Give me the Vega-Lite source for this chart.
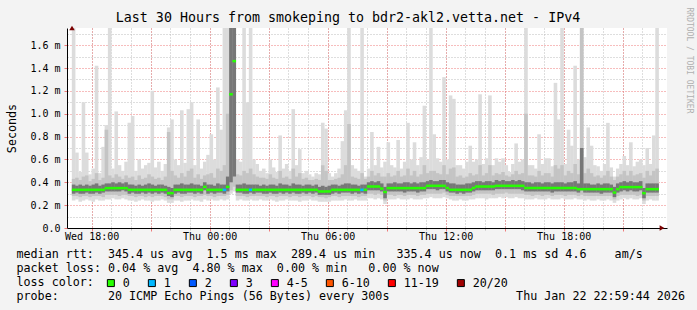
{
"$schema": "https://vega.github.io/schema/vega-lite/v6.json",
"width": 600, "height": 200,
"autosize": {"type": "none"},
"padding": {"left": 67, "top": 28, "right": 30, "bottom": 82},
"background": "#f3f3f3",
"title": {"text": "Last 30 Hours from smokeping to bdr2-akl2.vetta.net - IPv4", "font": "DejaVu Sans Mono", "fontSize": 13.3, "fontWeight": "normal", "color": "black", "anchor": "middle", "frame": "group", "dx": -19, "offset": 5, "baseline": "alphabetic", "dy": 33},
"config": {"view": {"fill": "white", "stroke": null}},
"data": {"values": [
{"t":"2026-01-21T17:05","min":0.24,"lo":0.28,"q1":0.30,"med":0.334,"q3":0.38,"hi":0.43,"max":1.8,"loss":"0"},
{"t":"2026-01-21T17:15","min":0.25,"lo":0.28,"q1":0.31,"med":0.334,"q3":0.37,"hi":0.44,"max":0.66,"loss":"0"},
{"t":"2026-01-21T17:25","min":0.23,"lo":0.27,"q1":0.30,"med":0.334,"q3":0.38,"hi":0.42,"max":0.49,"loss":"0"},
{"t":"2026-01-21T17:35","min":0.24,"lo":0.28,"q1":0.30,"med":0.334,"q3":0.37,"hi":0.45,"max":1.10,"loss":"0"},
{"t":"2026-01-21T17:45","min":0.25,"lo":0.28,"q1":0.31,"med":0.334,"q3":0.38,"hi":0.46,"max":0.66,"loss":"0"},
{"t":"2026-01-21T17:55","min":0.24,"lo":0.27,"q1":0.30,"med":0.334,"q3":0.37,"hi":0.41,"max":0.47,"loss":"0"},
{"t":"2026-01-21T18:05","min":0.23,"lo":0.28,"q1":0.30,"med":0.334,"q3":0.38,"hi":0.43,"max":0.52,"loss":"0"},
{"t":"2026-01-21T18:15","min":0.25,"lo":0.28,"q1":0.31,"med":0.334,"q3":0.39,"hi":0.48,"max":1.42,"loss":"0"},
{"t":"2026-01-21T18:25","min":0.24,"lo":0.28,"q1":0.30,"med":0.334,"q3":0.37,"hi":0.42,"max":0.48,"loss":"0"},
{"t":"2026-01-21T18:35","min":0.24,"lo":0.27,"q1":0.31,"med":0.334,"q3":0.38,"hi":0.44,"max":0.71,"loss":"0"},
{"t":"2026-01-21T18:45","min":0.25,"lo":0.29,"q1":0.32,"med":0.349,"q3":0.39,"hi":0.86,"max":0.90,"loss":"0"},
{"t":"2026-01-21T18:55","min":0.25,"lo":0.29,"q1":0.32,"med":0.349,"q3":0.39,"hi":0.46,"max":1.8,"loss":"0"},
{"t":"2026-01-21T19:05","min":0.26,"lo":0.29,"q1":0.32,"med":0.349,"q3":0.40,"hi":0.44,"max":0.52,"loss":"0"},
{"t":"2026-01-21T19:15","min":0.25,"lo":0.29,"q1":0.32,"med":0.349,"q3":0.39,"hi":0.47,"max":1.02,"loss":"0"},
{"t":"2026-01-21T19:25","min":0.25,"lo":0.28,"q1":0.32,"med":0.349,"q3":0.40,"hi":0.45,"max":0.55,"loss":"0"},
{"t":"2026-01-21T19:35","min":0.26,"lo":0.29,"q1":0.33,"med":0.349,"q3":0.39,"hi":0.43,"max":0.50,"loss":"0"},
{"t":"2026-01-21T19:45","min":0.25,"lo":0.29,"q1":0.32,"med":0.349,"q3":0.40,"hi":0.46,"max":0.58,"loss":"0"},
{"t":"2026-01-21T19:55","min":0.24,"lo":0.28,"q1":0.30,"med":0.334,"q3":0.38,"hi":0.44,"max":0.92,"loss":"0"},
{"t":"2026-01-21T20:05","min":0.24,"lo":0.28,"q1":0.31,"med":0.334,"q3":0.38,"hi":0.45,"max":0.98,"loss":"0"},
{"t":"2026-01-21T20:15","min":0.23,"lo":0.27,"q1":0.30,"med":0.334,"q3":0.37,"hi":0.42,"max":0.50,"loss":"0"},
{"t":"2026-01-21T20:25","min":0.24,"lo":0.28,"q1":0.30,"med":0.334,"q3":0.38,"hi":0.46,"max":0.60,"loss":"0"},
{"t":"2026-01-21T20:35","min":0.25,"lo":0.28,"q1":0.31,"med":0.334,"q3":0.37,"hi":0.43,"max":0.52,"loss":"0"},
{"t":"2026-01-21T20:45","min":0.24,"lo":0.27,"q1":0.30,"med":0.334,"q3":0.38,"hi":0.44,"max":0.55,"loss":"0"},
{"t":"2026-01-21T20:55","min":0.24,"lo":0.28,"q1":0.31,"med":0.334,"q3":0.39,"hi":0.47,"max":0.57,"loss":"0"},
{"t":"2026-01-21T21:05","min":0.23,"lo":0.27,"q1":0.30,"med":0.334,"q3":0.38,"hi":0.45,"max":1.20,"loss":"0"},
{"t":"2026-01-21T21:15","min":0.24,"lo":0.28,"q1":0.31,"med":0.334,"q3":0.37,"hi":0.43,"max":0.53,"loss":"0"},
{"t":"2026-01-21T21:25","min":0.24,"lo":0.28,"q1":0.30,"med":0.334,"q3":0.38,"hi":0.44,"max":0.58,"loss":"0"},
{"t":"2026-01-21T21:35","min":0.25,"lo":0.28,"q1":0.31,"med":0.334,"q3":0.38,"hi":0.42,"max":0.50,"loss":"0"},
{"t":"2026-01-21T21:45","min":0.24,"lo":0.27,"q1":0.30,"med":0.334,"q3":0.37,"hi":0.45,"max":0.56,"loss":"0"},
{"t":"2026-01-21T21:55","min":0.22,"lo":0.25,"q1":0.28,"med":0.305,"q3":0.36,"hi":0.84,"max":0.88,"loss":"0"},
{"t":"2026-01-21T22:05","min":0.22,"lo":0.25,"q1":0.27,"med":0.305,"q3":0.35,"hi":0.50,"max":0.95,"loss":"0"},
{"t":"2026-01-21T22:15","min":0.24,"lo":0.28,"q1":0.30,"med":0.334,"q3":0.38,"hi":0.46,"max":0.60,"loss":"0"},
{"t":"2026-01-21T22:25","min":0.24,"lo":0.28,"q1":0.31,"med":0.334,"q3":0.38,"hi":0.44,"max":0.55,"loss":"0"},
{"t":"2026-01-21T22:35","min":0.23,"lo":0.27,"q1":0.30,"med":0.334,"q3":0.39,"hi":0.48,"max":1.03,"loss":"0"},
{"t":"2026-01-21T22:45","min":0.24,"lo":0.28,"q1":0.30,"med":0.334,"q3":0.38,"hi":0.45,"max":0.57,"loss":"0"},
{"t":"2026-01-21T22:55","min":0.24,"lo":0.28,"q1":0.31,"med":0.334,"q3":0.38,"hi":0.50,"max":1.04,"loss":"0"},
{"t":"2026-01-21T23:05","min":0.25,"lo":0.28,"q1":0.31,"med":0.334,"q3":0.39,"hi":0.52,"max":1.10,"loss":"0"},
{"t":"2026-01-21T23:15","min":0.24,"lo":0.27,"q1":0.30,"med":0.334,"q3":0.38,"hi":0.44,"max":0.55,"loss":"0"},
{"t":"2026-01-21T23:25","min":0.24,"lo":0.28,"q1":0.31,"med":0.334,"q3":0.38,"hi":0.47,"max":0.95,"loss":"0"},
{"t":"2026-01-21T23:35","min":0.23,"lo":0.28,"q1":0.30,"med":0.334,"q3":0.37,"hi":0.43,"max":0.52,"loss":"0"},
{"t":"2026-01-21T23:45","min":0.25,"lo":0.29,"q1":0.33,"med":0.36,"q3":0.40,"hi":0.46,"max":0.58,"loss":"0"},
{"t":"2026-01-21T23:55","min":0.24,"lo":0.28,"q1":0.30,"med":0.334,"q3":0.38,"hi":0.47,"max":0.64,"loss":"0"},
{"t":"2026-01-22T00:05","min":0.25,"lo":0.28,"q1":0.31,"med":0.334,"q3":0.38,"hi":0.48,"max":0.82,"loss":"0"},
{"t":"2026-01-22T00:15","min":0.24,"lo":0.27,"q1":0.30,"med":0.334,"q3":0.37,"hi":0.44,"max":0.60,"loss":"0"},
{"t":"2026-01-22T00:25","min":0.24,"lo":0.28,"q1":0.31,"med":0.334,"q3":0.39,"hi":0.52,"max":1.23,"loss":"0"},
{"t":"2026-01-22T00:35","min":0.25,"lo":0.28,"q1":0.31,"med":0.334,"q3":0.38,"hi":0.50,"max":0.86,"loss":"0"},
{"t":"2026-01-22T00:45","min":0.24,"lo":0.28,"q1":0.30,"med":0.334,"q3":0.38,"hi":0.55,"max":1.8,"loss":"1"},
{"t":"2026-01-22T00:55","min":0.25,"lo":0.29,"q1":0.32,"med":0.36,"q3":0.45,"hi":1.0,"max":1.8,"loss":"0"},
{"t":"2026-01-22T01:05","min":0.30,"lo":0.33,"q1":0.40,"med":1.17,"q3":1.8,"hi":1.8,"max":1.8,"loss":"0"},
{"t":"2026-01-22T01:15","min":0.32,"lo":0.36,"q1":0.45,"med":1.46,"q3":1.8,"hi":1.8,"max":1.8,"loss":"0"},
{"t":"2026-01-22T01:25","min":0.24,"lo":0.28,"q1":0.31,"med":0.334,"q3":0.38,"hi":0.47,"max":0.60,"loss":"0"},
{"t":"2026-01-22T01:35","min":0.25,"lo":0.28,"q1":0.31,"med":0.334,"q3":0.38,"hi":0.46,"max":0.58,"loss":"0"},
{"t":"2026-01-22T01:45","min":0.24,"lo":0.28,"q1":0.30,"med":0.334,"q3":0.39,"hi":0.50,"max":1.8,"loss":"0"},
{"t":"2026-01-22T01:55","min":0.24,"lo":0.27,"q1":0.30,"med":0.334,"q3":0.38,"hi":0.48,"max":1.10,"loss":"0"},
{"t":"2026-01-22T02:05","min":0.25,"lo":0.28,"q1":0.31,"med":0.334,"q3":0.38,"hi":0.52,"max":1.8,"loss":"1"},
{"t":"2026-01-22T02:15","min":0.24,"lo":0.28,"q1":0.30,"med":0.334,"q3":0.38,"hi":0.47,"max":0.60,"loss":"0"},
{"t":"2026-01-22T02:25","min":0.24,"lo":0.28,"q1":0.31,"med":0.334,"q3":0.38,"hi":0.45,"max":0.56,"loss":"0"},
{"t":"2026-01-22T02:35","min":0.25,"lo":0.28,"q1":0.31,"med":0.334,"q3":0.37,"hi":0.44,"max":0.50,"loss":"0"},
{"t":"2026-01-22T02:45","min":0.24,"lo":0.28,"q1":0.30,"med":0.334,"q3":0.38,"hi":0.44,"max":0.52,"loss":"0"},
{"t":"2026-01-22T02:55","min":0.24,"lo":0.27,"q1":0.30,"med":0.334,"q3":0.37,"hi":0.43,"max":0.48,"loss":"0"},
{"t":"2026-01-22T03:05","min":0.25,"lo":0.28,"q1":0.31,"med":0.334,"q3":0.38,"hi":0.47,"max":0.60,"loss":"0"},
{"t":"2026-01-22T03:15","min":0.24,"lo":0.28,"q1":0.30,"med":0.334,"q3":0.38,"hi":0.44,"max":0.53,"loss":"0"},
{"t":"2026-01-22T03:25","min":0.23,"lo":0.27,"q1":0.30,"med":0.334,"q3":0.37,"hi":0.43,"max":0.49,"loss":"0"},
{"t":"2026-01-22T03:35","min":0.24,"lo":0.28,"q1":0.31,"med":0.334,"q3":0.39,"hi":0.50,"max":0.81,"loss":"0"},
{"t":"2026-01-22T03:45","min":0.24,"lo":0.28,"q1":0.30,"med":0.334,"q3":0.38,"hi":0.44,"max":0.52,"loss":"0"},
{"t":"2026-01-22T03:55","min":0.25,"lo":0.28,"q1":0.31,"med":0.334,"q3":0.38,"hi":0.45,"max":0.56,"loss":"0"},
{"t":"2026-01-22T04:05","min":0.24,"lo":0.27,"q1":0.30,"med":0.334,"q3":0.37,"hi":0.43,"max":0.50,"loss":"0"},
{"t":"2026-01-22T04:15","min":0.24,"lo":0.28,"q1":0.31,"med":0.334,"q3":0.39,"hi":0.52,"max":1.04,"loss":"0"},
{"t":"2026-01-22T04:25","min":0.24,"lo":0.28,"q1":0.30,"med":0.334,"q3":0.38,"hi":0.45,"max":0.55,"loss":"0"},
{"t":"2026-01-22T04:35","min":0.23,"lo":0.27,"q1":0.30,"med":0.334,"q3":0.38,"hi":0.48,"max":0.69,"loss":"0"},
{"t":"2026-01-22T04:45","min":0.24,"lo":0.28,"q1":0.31,"med":0.334,"q3":0.37,"hi":0.43,"max":0.48,"loss":"0"},
{"t":"2026-01-22T04:55","min":0.24,"lo":0.28,"q1":0.30,"med":0.334,"q3":0.38,"hi":0.44,"max":0.50,"loss":"0"},
{"t":"2026-01-22T05:05","min":0.25,"lo":0.28,"q1":0.31,"med":0.334,"q3":0.38,"hi":0.42,"max":0.47,"loss":"0"},
{"t":"2026-01-22T05:15","min":0.24,"lo":0.27,"q1":0.30,"med":0.334,"q3":0.37,"hi":0.42,"max":0.45,"loss":"0"},
{"t":"2026-01-22T05:25","min":0.24,"lo":0.28,"q1":0.31,"med":0.334,"q3":0.38,"hi":0.43,"max":0.48,"loss":"0"},
{"t":"2026-01-22T05:35","min":0.23,"lo":0.27,"q1":0.29,"med":0.32,"q3":0.36,"hi":0.42,"max":0.47,"loss":"0"},
{"t":"2026-01-22T05:45","min":0.23,"lo":0.27,"q1":0.29,"med":0.32,"q3":0.37,"hi":0.55,"max":0.92,"loss":"0"},
{"t":"2026-01-22T05:55","min":0.23,"lo":0.26,"q1":0.29,"med":0.32,"q3":0.36,"hi":0.50,"max":0.87,"loss":"0"},
{"t":"2026-01-22T06:05","min":0.23,"lo":0.27,"q1":0.29,"med":0.32,"q3":0.37,"hi":0.42,"max":0.48,"loss":"0"},
{"t":"2026-01-22T06:15","min":0.24,"lo":0.28,"q1":0.30,"med":0.334,"q3":0.38,"hi":0.42,"max":0.45,"loss":"0"},
{"t":"2026-01-22T06:25","min":0.24,"lo":0.28,"q1":0.31,"med":0.334,"q3":0.38,"hi":0.43,"max":0.48,"loss":"0"},
{"t":"2026-01-22T06:35","min":0.24,"lo":0.27,"q1":0.30,"med":0.334,"q3":0.37,"hi":0.44,"max":0.52,"loss":"0"},
{"t":"2026-01-22T06:45","min":0.24,"lo":0.28,"q1":0.31,"med":0.334,"q3":0.38,"hi":0.47,"max":0.76,"loss":"0"},
{"t":"2026-01-22T06:55","min":0.25,"lo":0.28,"q1":0.31,"med":0.334,"q3":0.39,"hi":0.55,"max":1.03,"loss":"0"},
{"t":"2026-01-22T07:05","min":0.24,"lo":0.28,"q1":0.31,"med":0.334,"q3":0.39,"hi":0.91,"max":1.8,"loss":"0"},
{"t":"2026-01-22T07:15","min":0.24,"lo":0.28,"q1":0.30,"med":0.334,"q3":0.38,"hi":0.45,"max":0.55,"loss":"0"},
{"t":"2026-01-22T07:25","min":0.25,"lo":0.28,"q1":0.31,"med":0.334,"q3":0.38,"hi":0.44,"max":0.52,"loss":"0"},
{"t":"2026-01-22T07:35","min":0.24,"lo":0.27,"q1":0.30,"med":0.334,"q3":0.37,"hi":0.43,"max":0.50,"loss":"0"},
{"t":"2026-01-22T07:45","min":0.24,"lo":0.28,"q1":0.31,"med":0.334,"q3":0.38,"hi":0.48,"max":1.8,"loss":"1"},
{"t":"2026-01-22T07:55","min":0.24,"lo":0.28,"q1":0.30,"med":0.334,"q3":0.38,"hi":0.43,"max":0.45,"loss":"0"},
{"t":"2026-01-22T08:05","min":0.26,"lo":0.30,"q1":0.33,"med":0.363,"q3":0.40,"hi":0.45,"max":0.52,"loss":"0"},
{"t":"2026-01-22T08:15","min":0.26,"lo":0.30,"q1":0.33,"med":0.363,"q3":0.41,"hi":0.50,"max":0.84,"loss":"0"},
{"t":"2026-01-22T08:25","min":0.25,"lo":0.29,"q1":0.33,"med":0.363,"q3":0.40,"hi":0.46,"max":0.55,"loss":"0"},
{"t":"2026-01-22T08:35","min":0.26,"lo":0.30,"q1":0.33,"med":0.363,"q3":0.41,"hi":0.48,"max":0.71,"loss":"0"},
{"t":"2026-01-22T08:45","min":0.25,"lo":0.29,"q1":0.32,"med":0.345,"q3":0.39,"hi":0.45,"max":0.53,"loss":"0"},
{"t":"2026-01-22T08:55","min":0.21,"lo":0.24,"q1":0.26,"med":0.315,"q3":0.36,"hi":0.45,"max":0.58,"loss":"0"},
{"t":"2026-01-22T09:05","min":0.25,"lo":0.29,"q1":0.32,"med":0.349,"q3":0.39,"hi":0.48,"max":0.75,"loss":"0"},
{"t":"2026-01-22T09:15","min":0.25,"lo":0.29,"q1":0.32,"med":0.349,"q3":0.39,"hi":0.45,"max":0.55,"loss":"0"},
{"t":"2026-01-22T09:25","min":0.25,"lo":0.28,"q1":0.32,"med":0.349,"q3":0.40,"hi":0.46,"max":0.53,"loss":"0"},
{"t":"2026-01-22T09:35","min":0.26,"lo":0.29,"q1":0.32,"med":0.349,"q3":0.39,"hi":0.50,"max":0.77,"loss":"0"},
{"t":"2026-01-22T09:45","min":0.25,"lo":0.29,"q1":0.32,"med":0.349,"q3":0.39,"hi":0.45,"max":0.52,"loss":"0"},
{"t":"2026-01-22T09:55","min":0.25,"lo":0.28,"q1":0.31,"med":0.349,"q3":0.40,"hi":0.46,"max":0.58,"loss":"0"},
{"t":"2026-01-22T10:05","min":0.25,"lo":0.29,"q1":0.32,"med":0.349,"q3":0.40,"hi":0.52,"max":0.92,"loss":"0"},
{"t":"2026-01-22T10:15","min":0.26,"lo":0.29,"q1":0.32,"med":0.349,"q3":0.39,"hi":0.46,"max":0.60,"loss":"0"},
{"t":"2026-01-22T10:25","min":0.25,"lo":0.29,"q1":0.32,"med":0.349,"q3":0.40,"hi":0.50,"max":0.75,"loss":"0"},
{"t":"2026-01-22T10:35","min":0.25,"lo":0.28,"q1":0.31,"med":0.349,"q3":0.39,"hi":0.45,"max":0.55,"loss":"0"},
{"t":"2026-01-22T10:45","min":0.25,"lo":0.29,"q1":0.32,"med":0.349,"q3":0.40,"hi":0.47,"max":0.62,"loss":"0"},
{"t":"2026-01-22T10:55","min":0.26,"lo":0.29,"q1":0.32,"med":0.349,"q3":0.40,"hi":0.55,"max":1.07,"loss":"0"},
{"t":"2026-01-22T11:05","min":0.26,"lo":0.30,"q1":0.34,"med":0.369,"q3":0.41,"hi":0.48,"max":0.60,"loss":"0"},
{"t":"2026-01-22T11:15","min":0.27,"lo":0.30,"q1":0.34,"med":0.369,"q3":0.42,"hi":0.50,"max":1.8,"loss":"0"},
{"t":"2026-01-22T11:25","min":0.26,"lo":0.30,"q1":0.34,"med":0.369,"q3":0.41,"hi":0.50,"max":0.82,"loss":"0"},
{"t":"2026-01-22T11:35","min":0.26,"lo":0.30,"q1":0.33,"med":0.369,"q3":0.41,"hi":0.48,"max":0.61,"loss":"0"},
{"t":"2026-01-22T11:45","min":0.26,"lo":0.30,"q1":0.34,"med":0.369,"q3":0.42,"hi":0.47,"max":0.58,"loss":"0"},
{"t":"2026-01-22T11:55","min":0.27,"lo":0.31,"q1":0.34,"med":0.369,"q3":0.42,"hi":0.55,"max":1.32,"loss":"0"},
{"t":"2026-01-22T12:05","min":0.26,"lo":0.29,"q1":0.32,"med":0.35,"q3":0.40,"hi":0.47,"max":0.60,"loss":"0"},
{"t":"2026-01-22T12:15","min":0.25,"lo":0.28,"q1":0.31,"med":0.334,"q3":0.39,"hi":0.52,"max":1.16,"loss":"0"},
{"t":"2026-01-22T12:25","min":0.24,"lo":0.28,"q1":0.31,"med":0.334,"q3":0.39,"hi":0.53,"max":1.13,"loss":"0"},
{"t":"2026-01-22T12:35","min":0.24,"lo":0.28,"q1":0.30,"med":0.334,"q3":0.38,"hi":0.45,"max":0.55,"loss":"0"},
{"t":"2026-01-22T12:45","min":0.25,"lo":0.28,"q1":0.31,"med":0.334,"q3":0.38,"hi":0.46,"max":0.55,"loss":"0"},
{"t":"2026-01-22T12:55","min":0.24,"lo":0.28,"q1":0.30,"med":0.334,"q3":0.38,"hi":0.44,"max":0.52,"loss":"0"},
{"t":"2026-01-22T13:05","min":0.24,"lo":0.28,"q1":0.31,"med":0.334,"q3":0.39,"hi":0.45,"max":0.58,"loss":"0"},
{"t":"2026-01-22T13:15","min":0.25,"lo":0.28,"q1":0.31,"med":0.334,"q3":0.39,"hi":0.48,"max":0.72,"loss":"0"},
{"t":"2026-01-22T13:25","min":0.25,"lo":0.29,"q1":0.32,"med":0.35,"q3":0.40,"hi":0.46,"max":0.58,"loss":"0"},
{"t":"2026-01-22T13:35","min":0.26,"lo":0.30,"q1":0.33,"med":0.363,"q3":0.41,"hi":0.47,"max":0.60,"loss":"0"},
{"t":"2026-01-22T13:45","min":0.26,"lo":0.30,"q1":0.33,"med":0.363,"q3":0.41,"hi":0.55,"max":1.17,"loss":"0"},
{"t":"2026-01-22T13:55","min":0.26,"lo":0.30,"q1":0.33,"med":0.363,"q3":0.40,"hi":0.46,"max":0.56,"loss":"0"},
{"t":"2026-01-22T14:05","min":0.25,"lo":0.30,"q1":0.33,"med":0.363,"q3":0.41,"hi":0.48,"max":0.61,"loss":"0"},
{"t":"2026-01-22T14:15","min":0.26,"lo":0.30,"q1":0.33,"med":0.363,"q3":0.41,"hi":0.55,"max":1.16,"loss":"0"},
{"t":"2026-01-22T14:25","min":0.26,"lo":0.29,"q1":0.33,"med":0.363,"q3":0.40,"hi":0.46,"max":0.55,"loss":"0"},
{"t":"2026-01-22T14:35","min":0.26,"lo":0.30,"q1":0.34,"med":0.369,"q3":0.42,"hi":0.48,"max":0.61,"loss":"0"},
{"t":"2026-01-22T14:45","min":0.27,"lo":0.30,"q1":0.34,"med":0.369,"q3":0.41,"hi":0.47,"max":0.58,"loss":"0"},
{"t":"2026-01-22T14:55","min":0.26,"lo":0.30,"q1":0.34,"med":0.369,"q3":0.42,"hi":0.49,"max":0.61,"loss":"0"},
{"t":"2026-01-22T15:05","min":0.27,"lo":0.31,"q1":0.34,"med":0.369,"q3":0.41,"hi":0.46,"max":0.55,"loss":"0"},
{"t":"2026-01-22T15:15","min":0.26,"lo":0.30,"q1":0.34,"med":0.369,"q3":0.41,"hi":0.45,"max":0.49,"loss":"0"},
{"t":"2026-01-22T15:25","min":0.26,"lo":0.30,"q1":0.34,"med":0.369,"q3":0.42,"hi":0.47,"max":0.56,"loss":"0"},
{"t":"2026-01-22T15:35","min":0.27,"lo":0.30,"q1":0.34,"med":0.369,"q3":0.41,"hi":0.50,"max":0.74,"loss":"0"},
{"t":"2026-01-22T15:45","min":0.26,"lo":0.30,"q1":0.34,"med":0.369,"q3":0.42,"hi":0.47,"max":0.58,"loss":"0"},
{"t":"2026-01-22T15:55","min":0.26,"lo":0.30,"q1":0.33,"med":0.369,"q3":0.41,"hi":0.48,"max":0.60,"loss":"0"},
{"t":"2026-01-22T16:05","min":0.25,"lo":0.29,"q1":0.32,"med":0.35,"q3":0.40,"hi":1.0,"max":1.8,"loss":"0"},
{"t":"2026-01-22T16:15","min":0.25,"lo":0.29,"q1":0.32,"med":0.35,"q3":0.40,"hi":0.46,"max":0.55,"loss":"0"},
{"t":"2026-01-22T16:25","min":0.25,"lo":0.28,"q1":0.32,"med":0.35,"q3":0.39,"hi":0.46,"max":0.55,"loss":"0"},
{"t":"2026-01-22T16:35","min":0.26,"lo":0.29,"q1":0.32,"med":0.35,"q3":0.40,"hi":0.45,"max":0.52,"loss":"0"},
{"t":"2026-01-22T16:45","min":0.25,"lo":0.29,"q1":0.32,"med":0.35,"q3":0.40,"hi":0.50,"max":0.82,"loss":"0"},
{"t":"2026-01-22T16:55","min":0.25,"lo":0.28,"q1":0.32,"med":0.35,"q3":0.39,"hi":0.46,"max":0.56,"loss":"0"},
{"t":"2026-01-22T17:05","min":0.25,"lo":0.29,"q1":0.32,"med":0.35,"q3":0.40,"hi":0.48,"max":0.61,"loss":"0"},
{"t":"2026-01-22T17:15","min":0.26,"lo":0.29,"q1":0.32,"med":0.35,"q3":0.40,"hi":0.48,"max":0.61,"loss":"0"},
{"t":"2026-01-22T17:25","min":0.25,"lo":0.28,"q1":0.31,"med":0.35,"q3":0.39,"hi":0.45,"max":0.54,"loss":"0"},
{"t":"2026-01-22T17:35","min":0.25,"lo":0.29,"q1":0.32,"med":0.35,"q3":0.40,"hi":0.55,"max":1.27,"loss":"0"},
{"t":"2026-01-22T17:45","min":0.25,"lo":0.29,"q1":0.32,"med":0.35,"q3":0.40,"hi":0.52,"max":0.95,"loss":"0"},
{"t":"2026-01-22T17:55","min":0.26,"lo":0.29,"q1":0.32,"med":0.35,"q3":0.40,"hi":0.55,"max":1.8,"loss":"0"},
{"t":"2026-01-22T18:05","min":0.25,"lo":0.28,"q1":0.32,"med":0.35,"q3":0.39,"hi":0.46,"max":0.56,"loss":"0"},
{"t":"2026-01-22T18:15","min":0.25,"lo":0.29,"q1":0.32,"med":0.35,"q3":0.40,"hi":0.50,"max":0.86,"loss":"0"},
{"t":"2026-01-22T18:25","min":0.25,"lo":0.29,"q1":0.32,"med":0.35,"q3":0.40,"hi":0.48,"max":0.72,"loss":"0"},
{"t":"2026-01-22T18:35","min":0.26,"lo":0.29,"q1":0.32,"med":0.35,"q3":0.41,"hi":0.56,"max":1.42,"loss":"0"},
{"t":"2026-01-22T18:45","min":0.25,"lo":0.28,"q1":0.31,"med":0.34,"q3":0.39,"hi":0.47,"max":0.60,"loss":"0"},
{"t":"2026-01-22T18:55","min":0.25,"lo":0.29,"q1":0.33,"med":0.34,"q3":0.70,"hi":1.8,"max":1.8,"loss":"0"},
{"t":"2026-01-22T19:05","min":0.24,"lo":0.28,"q1":0.31,"med":0.34,"q3":0.39,"hi":0.48,"max":0.62,"loss":"0"},
{"t":"2026-01-22T19:15","min":0.25,"lo":0.28,"q1":0.31,"med":0.34,"q3":0.39,"hi":0.52,"max":0.88,"loss":"0"},
{"t":"2026-01-22T19:25","min":0.24,"lo":0.28,"q1":0.31,"med":0.34,"q3":0.38,"hi":0.48,"max":0.72,"loss":"0"},
{"t":"2026-01-22T19:35","min":0.24,"lo":0.28,"q1":0.31,"med":0.34,"q3":0.38,"hi":0.45,"max":0.55,"loss":"0"},
{"t":"2026-01-22T19:45","min":0.25,"lo":0.28,"q1":0.31,"med":0.34,"q3":0.39,"hi":0.46,"max":0.54,"loss":"0"},
{"t":"2026-01-22T19:55","min":0.24,"lo":0.28,"q1":0.30,"med":0.34,"q3":0.38,"hi":0.44,"max":0.50,"loss":"0"},
{"t":"2026-01-22T20:05","min":0.24,"lo":0.28,"q1":0.31,"med":0.34,"q3":0.39,"hi":0.46,"max":0.56,"loss":"0"},
{"t":"2026-01-22T20:15","min":0.25,"lo":0.28,"q1":0.31,"med":0.34,"q3":0.39,"hi":0.50,"max":0.92,"loss":"0"},
{"t":"2026-01-22T20:25","min":0.24,"lo":0.28,"q1":0.31,"med":0.34,"q3":0.38,"hi":0.45,"max":0.53,"loss":"0"},
{"t":"2026-01-22T20:35","min":0.22,"lo":0.25,"q1":0.27,"med":0.31,"q3":0.36,"hi":0.42,"max":0.45,"loss":"0"},
{"t":"2026-01-22T20:45","min":0.24,"lo":0.28,"q1":0.31,"med":0.34,"q3":0.39,"hi":0.45,"max":0.52,"loss":"0"},
{"t":"2026-01-22T20:55","min":0.25,"lo":0.29,"q1":0.32,"med":0.358,"q3":0.40,"hi":0.47,"max":0.56,"loss":"0"},
{"t":"2026-01-22T21:05","min":0.26,"lo":0.29,"q1":0.33,"med":0.358,"q3":0.41,"hi":0.50,"max":0.63,"loss":"0"},
{"t":"2026-01-22T21:15","min":0.25,"lo":0.29,"q1":0.32,"med":0.358,"q3":0.40,"hi":0.46,"max":0.55,"loss":"0"},
{"t":"2026-01-22T21:25","min":0.26,"lo":0.29,"q1":0.33,"med":0.358,"q3":0.41,"hi":0.50,"max":0.75,"loss":"0"},
{"t":"2026-01-22T21:35","min":0.25,"lo":0.29,"q1":0.32,"med":0.358,"q3":0.40,"hi":0.46,"max":0.54,"loss":"0"},
{"t":"2026-01-22T21:45","min":0.25,"lo":0.28,"q1":0.32,"med":0.358,"q3":0.40,"hi":0.47,"max":0.58,"loss":"0"},
{"t":"2026-01-22T21:55","min":0.26,"lo":0.29,"q1":0.33,"med":0.358,"q3":0.41,"hi":0.48,"max":0.60,"loss":"0"},
{"t":"2026-01-22T22:05","min":0.21,"lo":0.24,"q1":0.26,"med":0.305,"q3":0.35,"hi":0.44,"max":0.55,"loss":"0"},
{"t":"2026-01-22T22:15","min":0.24,"lo":0.28,"q1":0.31,"med":0.34,"q3":0.39,"hi":0.50,"max":0.70,"loss":"0"},
{"t":"2026-01-22T22:25","min":0.25,"lo":0.28,"q1":0.31,"med":0.34,"q3":0.39,"hi":0.46,"max":0.56,"loss":"0"},
{"t":"2026-01-22T22:35","min":0.24,"lo":0.28,"q1":0.31,"med":0.34,"q3":0.39,"hi":0.50,"max":0.81,"loss":"0"},
{"t":"2026-01-22T22:45","min":0.24,"lo":0.28,"q1":0.31,"med":0.34,"q3":0.39,"hi":0.52,"max":1.8,"loss":"0"}
]},
"resolve": {"axis": {"x": "independent", "y": "independent"}},
"layer": [
{"mark": {"type": "bar", "width": 3.6, "color": "#dcdcdc", "clip": true},
 "encoding": {
  "x": {"field": "t", "type": "temporal", "scale": {"domain": [{"year": 2026, "month": 1, "date": 21, "hours": 17}, {"year": 2026, "month": 1, "date": 22, "hours": 23}]},
        "axis": {"orient": "bottom", "values": [
          {"year": 2026, "month": 1, "date": 21, "hours": 18}, {"year": 2026, "month": 1, "date": 21, "hours": 19}, {"year": 2026, "month": 1, "date": 21, "hours": 20}, {"year": 2026, "month": 1, "date": 21, "hours": 21}, {"year": 2026, "month": 1, "date": 21, "hours": 22}, {"year": 2026, "month": 1, "date": 21, "hours": 23},
          {"year": 2026, "month": 1, "date": 22, "hours": 0}, {"year": 2026, "month": 1, "date": 22, "hours": 1}, {"year": 2026, "month": 1, "date": 22, "hours": 2}, {"year": 2026, "month": 1, "date": 22, "hours": 3}, {"year": 2026, "month": 1, "date": 22, "hours": 4}, {"year": 2026, "month": 1, "date": 22, "hours": 5},
          {"year": 2026, "month": 1, "date": 22, "hours": 6}, {"year": 2026, "month": 1, "date": 22, "hours": 7}, {"year": 2026, "month": 1, "date": 22, "hours": 8}, {"year": 2026, "month": 1, "date": 22, "hours": 9}, {"year": 2026, "month": 1, "date": 22, "hours": 10}, {"year": 2026, "month": 1, "date": 22, "hours": 11},
          {"year": 2026, "month": 1, "date": 22, "hours": 12}, {"year": 2026, "month": 1, "date": 22, "hours": 13}, {"year": 2026, "month": 1, "date": 22, "hours": 14}, {"year": 2026, "month": 1, "date": 22, "hours": 15}, {"year": 2026, "month": 1, "date": 22, "hours": 16}, {"year": 2026, "month": 1, "date": 22, "hours": 17},
          {"year": 2026, "month": 1, "date": 22, "hours": 18}, {"year": 2026, "month": 1, "date": 22, "hours": 19}, {"year": 2026, "month": 1, "date": 22, "hours": 20}, {"year": 2026, "month": 1, "date": 22, "hours": 21}, {"year": 2026, "month": 1, "date": 22, "hours": 22}],
          "grid": true, "gridColor": "#bcbcbc", "gridDash": [1, 2], "labels": false, "ticks": true, "tickColor": "#bcbcbc", "tickSize": 2, "domain": false, "title": null}},
  "y": {"field": "min", "type": "quantitative", "scale": {"domain": [0, 1.75], "nice": false},
        "axis": {"orient": "left", "values": [0.1, 0.3, 0.5, 0.7, 0.9, 1.1, 1.3, 1.5, 1.7], "grid": true, "gridColor": "#bcbcbc", "gridDash": [1, 2], "labels": false, "ticks": false, "domain": false, "title": null}},
  "y2": {"field": "max"}
 }},
{"mark": {"type": "bar", "width": 3.6, "color": "#c4c4c4", "clip": true},
 "encoding": {
  "x": {"field": "t", "type": "temporal",
        "axis": {"orient": "bottom", "values": [
          {"year": 2026, "month": 1, "date": 21, "hours": 18}, {"year": 2026, "month": 1, "date": 21, "hours": 21}, {"year": 2026, "month": 1, "date": 22, "hours": 0}, {"year": 2026, "month": 1, "date": 22, "hours": 3}, {"year": 2026, "month": 1, "date": 22, "hours": 6},
          {"year": 2026, "month": 1, "date": 22, "hours": 9}, {"year": 2026, "month": 1, "date": 22, "hours": 12}, {"year": 2026, "month": 1, "date": 22, "hours": 15}, {"year": 2026, "month": 1, "date": 22, "hours": 18}, {"year": 2026, "month": 1, "date": 22, "hours": 21}],
          "grid": true, "gridColor": "#ee7a7a", "gridDash": [1, 2], "labels": false, "ticks": true, "tickColor": "#ee7a7a", "tickSize": 3, "domain": false, "title": null}},
  "y": {"field": "lo", "type": "quantitative",
        "axis": {"orient": "left", "values": [0, 0.2, 0.4, 0.6, 0.8, 1.0, 1.2, 1.4, 1.6], "grid": true, "gridColor": "#ee7a7a", "gridDash": [1, 2],
                 "labelExpr": "datum.value == 0 ? '0.0' : format(datum.value, '.1f') + ' m'", "labelFont": "DejaVu Sans Mono", "labelFontSize": 10, "labelColor": "black", "labelPadding": 4,
                 "ticks": true, "tickColor": "#ee7a7a", "tickSize": 3, "domain": true, "domainColor": "black", "domainWidth": 1,
                 "title": "Seconds", "titleFont": "DejaVu Sans Mono", "titleFontSize": 11.7, "titleFontWeight": "normal", "titleColor": "black", "titleAngle": 270, "titleX": -56, "titleY": 100, "titleAlign": "center", "titleBaseline": "middle"}},
  "y2": {"field": "hi"}
 }},
{"mark": {"type": "bar", "width": 3.6, "color": "#777777", "clip": true},
 "encoding": {
  "x": {"field": "t", "type": "temporal",
        "axis": {"orient": "bottom", "values": [
          {"year": 2026, "month": 1, "date": 21, "hours": 18}, {"year": 2026, "month": 1, "date": 22, "hours": 0}, {"year": 2026, "month": 1, "date": 22, "hours": 6}, {"year": 2026, "month": 1, "date": 22, "hours": 12}, {"year": 2026, "month": 1, "date": 22, "hours": 18}],
          "grid": false, "ticks": false, "labels": true, "format": "%a %H:%M", "labelFont": "DejaVu Sans Mono", "labelFontSize": 10, "labelColor": "black", "labelPadding": 3, "labelFlush": false, "labelOverlap": false,
                 "domain": true, "domainColor": "black", "domainWidth": 1,
                 "title": ["median rtt:\u00a0\u00a0345.4 us avg\u00a0\u00a01.5 ms max\u00a0\u00a0289.4 us min\u00a0\u00a0\u00a0335.4 us now\u00a0\u00a00.1 ms sd 4.6\u00a0\u00a0\u00a0\u00a0am/s", "packet loss: 0.04 % avg\u00a0\u00a04.80 % max\u00a0\u00a00.00 % min\u00a0\u00a0\u00a00.00 % now", "loss color:", "probe:\u00a0\u00a0\u00a0\u00a0\u00a0\u00a0\u00a020 ICMP Echo Pings (56 Bytes) every 300s\u00a0\u00a0\u00a0\u00a0\u00a0\u00a0\u00a0\u00a0\u00a0\u00a0\u00a0\u00a0\u00a0\u00a0\u00a0\u00a0\u00a0\u00a0Thu Jan 22 22:59:44 2026"],
                 "titleFont": "DejaVu Sans Mono", "titleFontSize": 11.7, "titleFontWeight": "normal", "titleColor": "black", "titleLineHeight": 14, "titleX": -51, "titleY": 29.5, "titleAlign": "left", "titleBaseline": "alphabetic", "titleAngle": 0}},
  "y": {"field": "q1", "type": "quantitative",
        "axis": {"orient": "right", "labels": false, "ticks": false, "grid": false, "domain": false, "title": "RRDTOOL / TOBI OETIKER", "titleAngle": 90, "titleX": 21, "titleY": 32, "titleFont": "DejaVu Sans Mono", "titleFontSize": 8, "titleFontWeight": "normal", "titleColor": "#b0b0b0", "titleAlign": "center", "titleBaseline": "middle"}},
  "y2": {"field": "q3"}
 }},
{"mark": {"type": "tick", "orient": "horizontal", "size": 3.6, "thickness": 2.5, "opacity": 1, "clip": true},
 "encoding": {
  "x": {"field": "t", "type": "temporal", "axis": null},
  "y": {"field": "med", "type": "quantitative", "axis": null},
  "color": {"field": "loss", "type": "nominal",
            "scale": {"domain": ["0", "1", "2", "3", "4-5", "6-10", "11-19", "20/20"], "range": ["#26ff00", "#00b8ff", "#0059ff", "#7e00ff", "#ff00ff", "#ff5500", "#ff0000", "#a00000"]},
            "legend": {"orient": "none", "legendX": 38, "legendY": 249, "direction": "horizontal", "title": null, "symbolType": "square", "symbolSize": 49, "symbolStrokeColor": "black", "symbolStrokeWidth": 1, "symbolOpacity": 1,
                       "labelFont": "DejaVu Sans Mono", "labelFontSize": 11.7, "labelColor": "black", "labelOffset": 6, "columnPadding": 16, "padding": 0}}
 }},
{"data": {"values": [{}]},
 "mark": {"type": "point", "shape": "triangle-right", "filled": true, "size": 30, "color": "#7a0000", "opacity": 1, "dx": 4},
 "encoding": {
  "x": {"datum": {"year": 2026, "month": 1, "date": 22, "hours": 23}, "type": "temporal", "axis": null},
  "y": {"datum": 0, "type": "quantitative", "axis": null}
 }},
{"data": {"values": [{}]},
 "mark": {"type": "point", "shape": "triangle-up", "filled": true, "size": 30, "color": "#7a0000", "opacity": 1, "dy": -4},
 "encoding": {
  "x": {"datum": {"year": 2026, "month": 1, "date": 21, "hours": 17}, "type": "temporal", "axis": null},
  "y": {"datum": 1.75, "type": "quantitative", "axis": null}
 }}
]
}
